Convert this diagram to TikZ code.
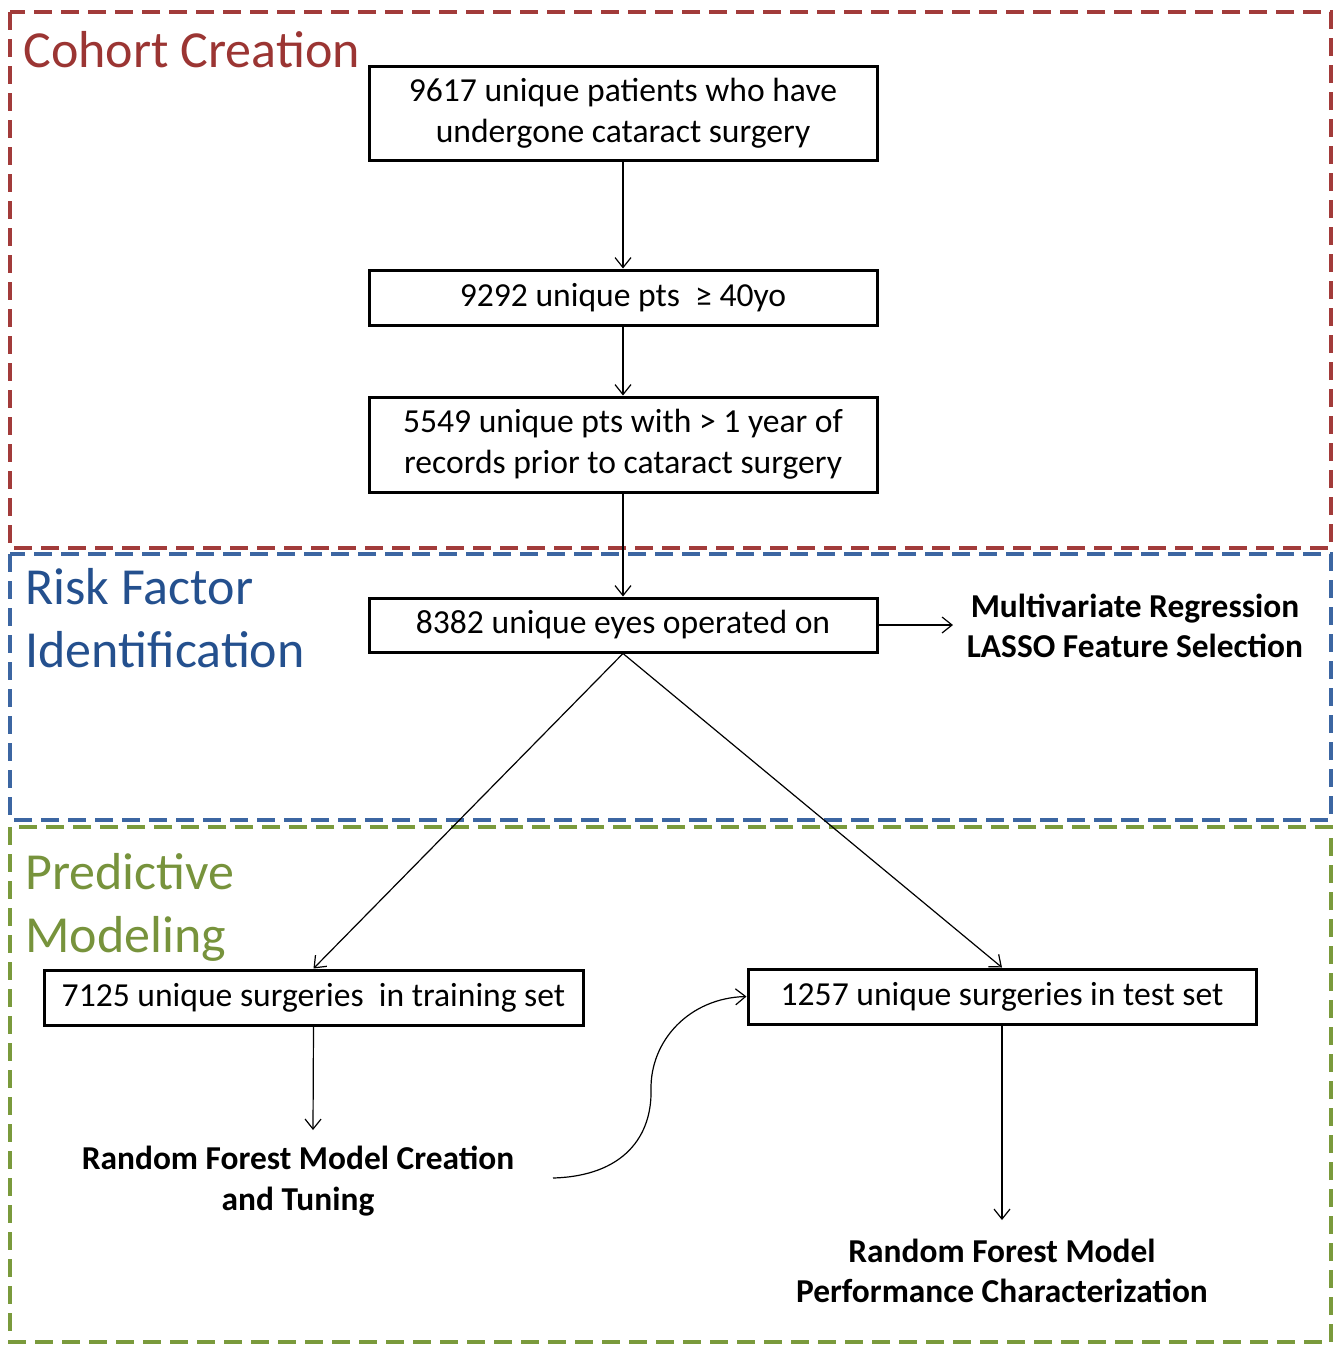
\documentclass[tikz,border=0pt]{standalone}
\usepackage{fontspec}
\setmainfont{Carlito}
\usetikzlibrary{arrows.meta}
\definecolor{cred}{HTML}{A23B3A}
\definecolor{cblue}{HTML}{3C66A2}
\definecolor{cgreen}{HTML}{7A9A3C}
\definecolor{tred}{HTML}{9B3533}
\definecolor{tblue}{HTML}{24508E}
\definecolor{tgreen}{HTML}{77933C}
\tikzset{
  region/.style={line width=2pt, dash pattern=on 9pt off 4.5pt},
  flowbox/.style={draw=black, line width=1.5pt, align=center, inner sep=0pt,
    font=\fontsize{16.8}{20.5}\selectfont},
  steplabel/.style={align=center, inner sep=0pt,
    font=\fontsize{16.7}{20.3}\selectfont\bfseries},
  title/.style={align=left, inner sep=0pt, anchor=north west,
    font=\fontsize{26}{31.5}\selectfont},
  conn/.style={line width=0.6pt, -{Straight Barb[length=5pt,width=8pt,line width=0.6pt]}},
}
\begin{document}
\begin{tikzpicture}[x=0.5pt,y=-0.5pt]
\useasboundingbox (0,0) rectangle (1339,1345);
% regions
\draw[region, cred] (10,12) rectangle (1331,548);
\draw[region, cblue] (10,554) rectangle (1331,820);
\draw[region, cgreen] (10,827) rectangle (1331,1342);
% titles
\node[title, text=tred] (t1) at (23,31) {Cohort Creation};
\node[title, text=tblue] (t2) at (25,568) {Risk Factor\\Identification};
\node[title, text=tgreen] (t3) at (25,853) {Predictive\\Modeling};
% boxes
\node[flowbox, minimum width=254pt, minimum height=47pt] (b1) at (623,113)
  {9617 unique patients who have\\undergone cataract surgery};
\node[flowbox, minimum width=254pt, minimum height=27.5pt] (b2) at (623,297.5)
  {9292 unique pts\ \ ≥ 40yo};
\node[flowbox, minimum width=254pt, minimum height=47.5pt] (b3) at (623,444.5)
  {5549 unique pts with > 1 year of\\records prior to cataract surgery};
\node[flowbox, minimum width=254pt, minimum height=27pt] (b4) at (623,625)
  {8382 unique eyes operated on};
\node[flowbox, minimum width=269.5pt, minimum height=27.5pt] (b5) at (313.5,997.5)
  {7125 unique surgeries\ \ in training set};
\node[flowbox, minimum width=254pt, minimum height=27.5pt] (b6) at (1002,996.5)
  {1257 unique surgeries in test set};
% labels
\node[steplabel] (l1) at (1135,626) {Multivariate Regression\\LASSO Feature Selection};
\node[steplabel] (l2) at (298,1181) {Random Forest Model Creation\\and Tuning};
\node[steplabel] (l3) at (1002,1271) {Random Forest Model\\Performance Characterization};
\coordinate (l1w) at (953,625);
\coordinate (l2n) at (313,1130);
\coordinate (l3n) at (1002,1220);
\coordinate (cs) at (553,1178);
% connectors
\draw[conn] (b1.south) -- (b2.north);
\draw[conn] (b2.south) -- (b3.north);
\draw[conn] (b3.south) -- (b4.north);
\draw[conn] (b4.east) -- (l1w);
\draw[conn] (b4.south) -- (b5.north);
\draw[conn] (b4.south) -- (b6.north);
\draw[conn] (b5.south) -- (l2n);
\draw[conn] (b6.south) -- (l3n);
\draw[conn] (cs) .. controls (625,1176) and (652,1135) .. (651,1090)
  .. controls (650,1040) and (690,998) .. (b6.west);
\end{tikzpicture}
\end{document}
